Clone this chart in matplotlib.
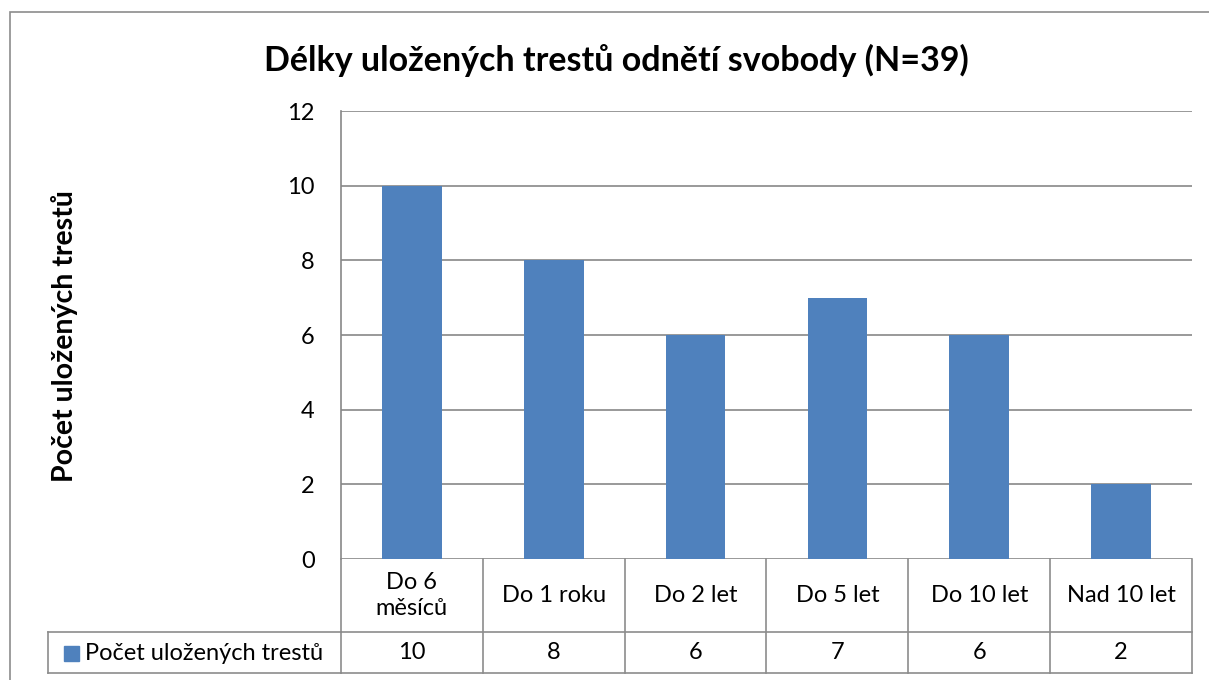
import matplotlib
matplotlib.use("Agg")
import matplotlib.pyplot as plt
from matplotlib.patches import Rectangle
from matplotlib.lines import Line2D

categories = ["Do 6\nměsíců", "Do 1 roku", "Do 2 let", "Do 5 let", "Do 10 let", "Nad 10 let"]
values = [10, 8, 6, 7, 6, 2]
series_name = "Počet uložených trestů"
title = "Délky uložených trestů odnětí svobody (N=39)"
ylabel = "Počet uložených trestů"
yticks = [0, 2, 4, 6, 8, 10, 12]

W, H = 1209, 680
plt.rcParams['font.family'] = ['Lato', 'DejaVu Sans']
fig = plt.figure(figsize=(W / 100, H / 100), dpi=100)

def fx(x):
    return x / W

def fy(y):
    return 1 - y / H

BAR = "#4F81BD"
GRID = "#878787"
BORDER = "#8C8C8C"
FS = 17

# outer chart frame
fig.patches.append(Rectangle((fx(10), fy(700)), fx(1250), fy(12) - fy(700),
                             transform=fig.transFigure, fill=False,
                             edgecolor=BORDER, linewidth=1.2))

# plot area
L, R, T, B = 341, 1192, 111, 559
ax = fig.add_axes([fx(L), fy(B), fx(R) - fx(L), fy(T) - fy(B)])
n = len(categories)
x = list(range(n))
ax.bar(x, values, width=0.42, color=BAR, zorder=3)
ax.set_xlim(-0.5, n - 0.5)
ax.set_ylim(0, 12)
ax.set_yticks(yticks)
ax.set_yticklabels([str(t) for t in yticks], fontsize=FS)
ax.tick_params(axis='y', length=0, pad=19)
ax.set_xticks([])
ax.grid(axis='y', color=GRID, linewidth=1.2, zorder=0)
for s in ['top', 'right', 'bottom']:
    ax.spines[s].set_visible(False)
ax.spines['left'].set_color(GRID)
ax.spines['left'].set_linewidth(1.2)

# title and y label
fig.text(fx(616), fy(60), title, ha='center', va='center',
         fontsize=24.5, fontweight='bold')
fig.text(fx(65), fy(336), ylabel, ha='center', va='center', rotation=90,
         fontsize=20.5, fontweight='bold')

# data table
TB, RM = 673, 632
tab = fig.add_axes([fx(L), fy(TB), fx(R) - fx(L), fy(B) - fy(TB)])
tab.set_xlim(-0.5, n - 0.5)
tab.set_ylim(0, 1)
tab.axis('off')
ymid = (TB - RM) / (TB - B)
for i in range(n + 1):
    tab.plot([i - 0.5, i - 0.5], [0, 1], color=BORDER, lw=1.2, clip_on=False)
tab.plot([-0.5, n - 0.5], [ymid, ymid], color=BORDER, lw=1.2, clip_on=False)
tab.plot([-0.5, n - 0.5], [0, 0], color=BORDER, lw=1.2, clip_on=False)
for i, (c, v) in enumerate(zip(categories, values)):
    tab.text(i, (ymid + 1) / 2, c, ha='center', va='center', fontsize=FS,
             linespacing=1.35)
    tab.text(i, ymid / 2, str(v), ha='center', va='center', fontsize=FS)

# legend cell
for xs, ys in [((48, L), (RM, RM)), ((48, L), (TB, TB)), ((48, 48), (RM, TB))]:
    fig.lines.append(Line2D([fx(xs[0]), fx(xs[1])], [fy(ys[0]), fy(ys[1])],
                            transform=fig.transFigure, color=BORDER, lw=1.2))
fig.patches.append(Rectangle((fx(64), fy(661)), fx(15), fy(646) - fy(661),
                             transform=fig.transFigure, color=BAR))
fig.text(fx(85), fy(653), series_name, ha='left', va='center', fontsize=FS)

fig.savefig("out.png", dpi=100)
